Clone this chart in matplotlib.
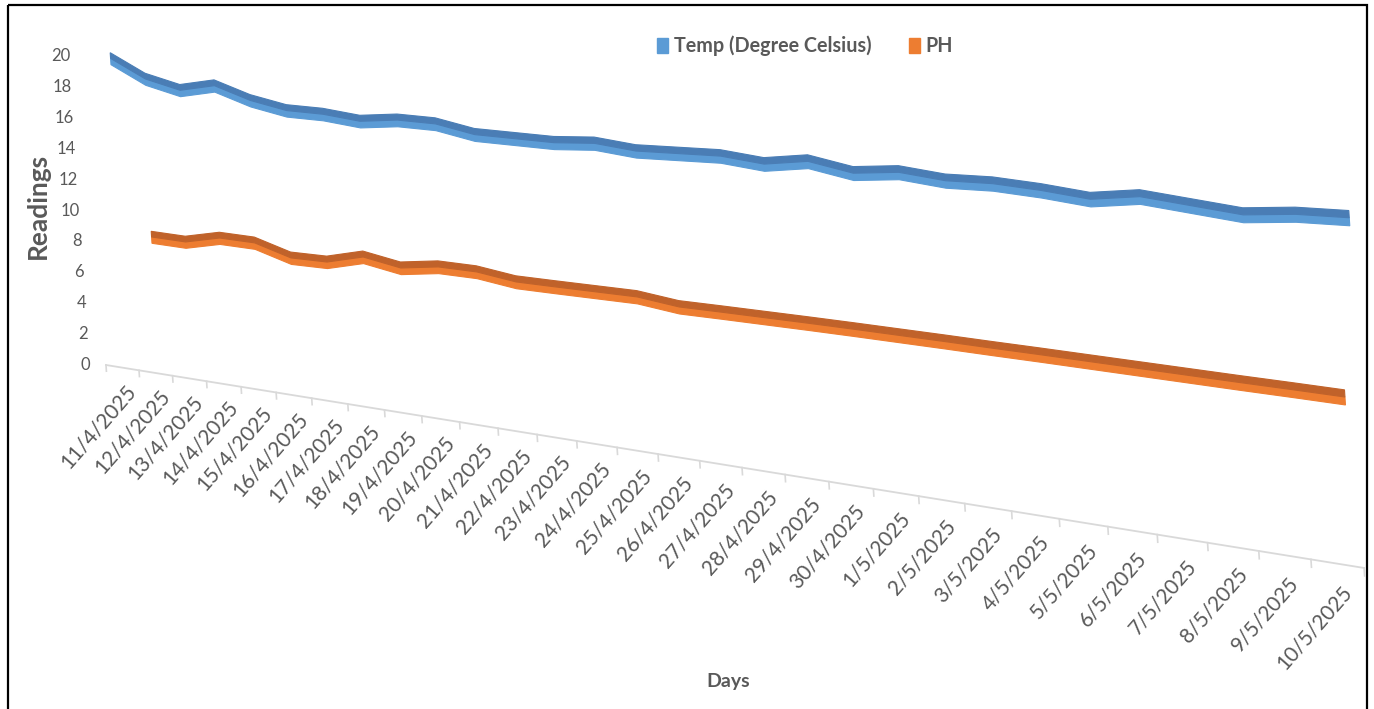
import numpy as np
import matplotlib
matplotlib.use("Agg")
import matplotlib.pyplot as plt
import matplotlib.transforms as mtransforms
from matplotlib.patches import Patch, Rectangle

plt.rcParams['font.family'] = ['Lato', 'DejaVu Sans']

days = ['11/4/2025', '12/4/2025', '13/4/2025', '14/4/2025', '15/4/2025',
        '16/4/2025', '17/4/2025', '18/4/2025', '19/4/2025', '20/4/2025',
        '21/4/2025', '22/4/2025', '23/4/2025', '24/4/2025', '25/4/2025',
        '26/4/2025', '27/4/2025', '28/4/2025', '29/4/2025', '30/4/2025',
        '1/5/2025', '2/5/2025', '3/5/2025', '4/5/2025', '5/5/2025',
        '6/5/2025', '7/5/2025', '8/5/2025', '9/5/2025', '10/5/2025']

temp = [19.9, 18.8, 18.3, 18.8, 18.1, 17.7, 17.7, 17.5, 17.8, 17.8,
        17.4, 17.4, 17.4, 17.6, 17.4, 17.5, 17.6, 17.4, 17.8, 17.4,
        17.7, 17.5, 17.6, 17.5, 17.3, 17.7, 17.5, 17.3, 17.6, 17.7]

# no pH reading on the first day
ph = [np.nan, 8.78, 8.75, 9.28, 9.26, 8.62, 8.66, 9.26, 8.89, 9.25,
      9.25, 8.96, 8.97, 8.99, 9.01, 8.75, 8.77, 8.78, 8.79, 8.79,
      8.78, 8.77, 8.75, 8.74, 8.72, 8.70, 8.68, 8.66, 8.65, 8.63]

y_ticks = list(range(0, 21, 2))

GREY = '#595959'

# 3-D look: category position u, value v, depth d -> canvas pixels
X0, Y0 = 106.0, 365.0
STEP_X, STEP_Y = 32.79, 5.29
UNIT_Y, LEAN = 15.45, 1.0
PERSP, NEAR = 0.00727, 0.0153
SHIFT_X, SHIFT_Y = 8.0, 4.0


class Persp(mtransforms.Transform):
    input_dims = 2
    output_dims = 2
    is_separable = False

    def __init__(self, z=0.0):
        super().__init__()
        self.z = z

    def transform_non_affine(self, values):
        values = np.asarray(values, dtype=float)
        u, v = values[:, 0], values[:, 1]
        w = 1 - PERSP * u - NEAR * self.z
        x = X0 + (STEP_X * u + SHIFT_X * self.z - LEAN * v) / w
        y = Y0 + (STEP_Y * u + SHIFT_Y * self.z - UNIT_Y * v) / w
        return np.column_stack([x, y])


fig = plt.figure(figsize=(13.74, 7.09), dpi=100)
ax = fig.add_axes([0, 0, 1, 1])
ax.set_xlim(0, 1374)
ax.set_ylim(709, 0)
ax.axis('off')

floor = Persp(0.0) + ax.transData

# category axis with tick marks
n = len(days)
ax.plot([0, n], [0, 0], color='#d9d9d9', lw=1.3, transform=floor)
for k in range(n + 1):
    ax.plot([k, k], [0, -0.4], color='#d9d9d9', lw=1.2, transform=floor)

lab_tr = mtransforms.offset_copy(floor, fig=fig, x=9, y=0, units='dots')
for i, d in enumerate(days):
    ax.text(i + 0.5, -1.25, d, transform=lab_tr, rotation=49,
            rotation_mode='anchor', ha='right', va='center',
            fontsize=15, color=GREY)

tick_tr = mtransforms.offset_copy(floor, fig=fig, x=-16, y=0, units='dots')
for t in y_ticks:
    ax.text(0, t, str(t), transform=tick_tr, ha='right', va='center',
            fontsize=12, color=GREY)


def ribbon(values, z, light, dark):
    vals = np.asarray(values, dtype=float)
    u = np.arange(len(vals)) + 0.5
    ok = np.isfinite(vals)
    u, vals = u[ok], vals[ok]
    tr = Persp(z) + ax.transData
    ax.fill(np.r_[u, u[::-1]], np.r_[vals - 0.4, vals[::-1]],
            color=light, lw=0.8, transform=tr)
    ax.fill(np.r_[u, u[::-1]], np.r_[vals, vals[::-1] + 0.36],
            color=dark, lw=0.8, transform=tr)


ribbon(ph, 0.54, '#ed7d31', '#c0622a')
ribbon(temp, 1.0, '#5b9bd5', '#4a7db5')

ax.text(38, 206, 'Readings', rotation=90, ha='center', va='center',
        fontsize=19, fontweight='bold', color=GREY)
ax.text(728, 681, 'Days', ha='center', va='center',
        fontsize=14, fontweight='bold', color=GREY)

handles = [Patch(color='#5b9bd5'), Patch(color='#ed7d31')]
ax.legend(handles, ['Temp (Degree Celsius)', 'PH'], ncol=2, loc='center',
          bbox_to_anchor=(805 / 1374, 1 - 46 / 709), frameon=False,
          prop={'size': 14.2, 'weight': 'bold'}, labelcolor=GREY,
          handlelength=0.55, handleheight=0.85, handletextpad=0.3,
          columnspacing=1.9)

ax.add_patch(Rectangle((8, 5), 1359, 720, fill=False, ec='black', lw=1.6,
                       clip_on=False))

fig.savefig('out.png', dpi=100)
